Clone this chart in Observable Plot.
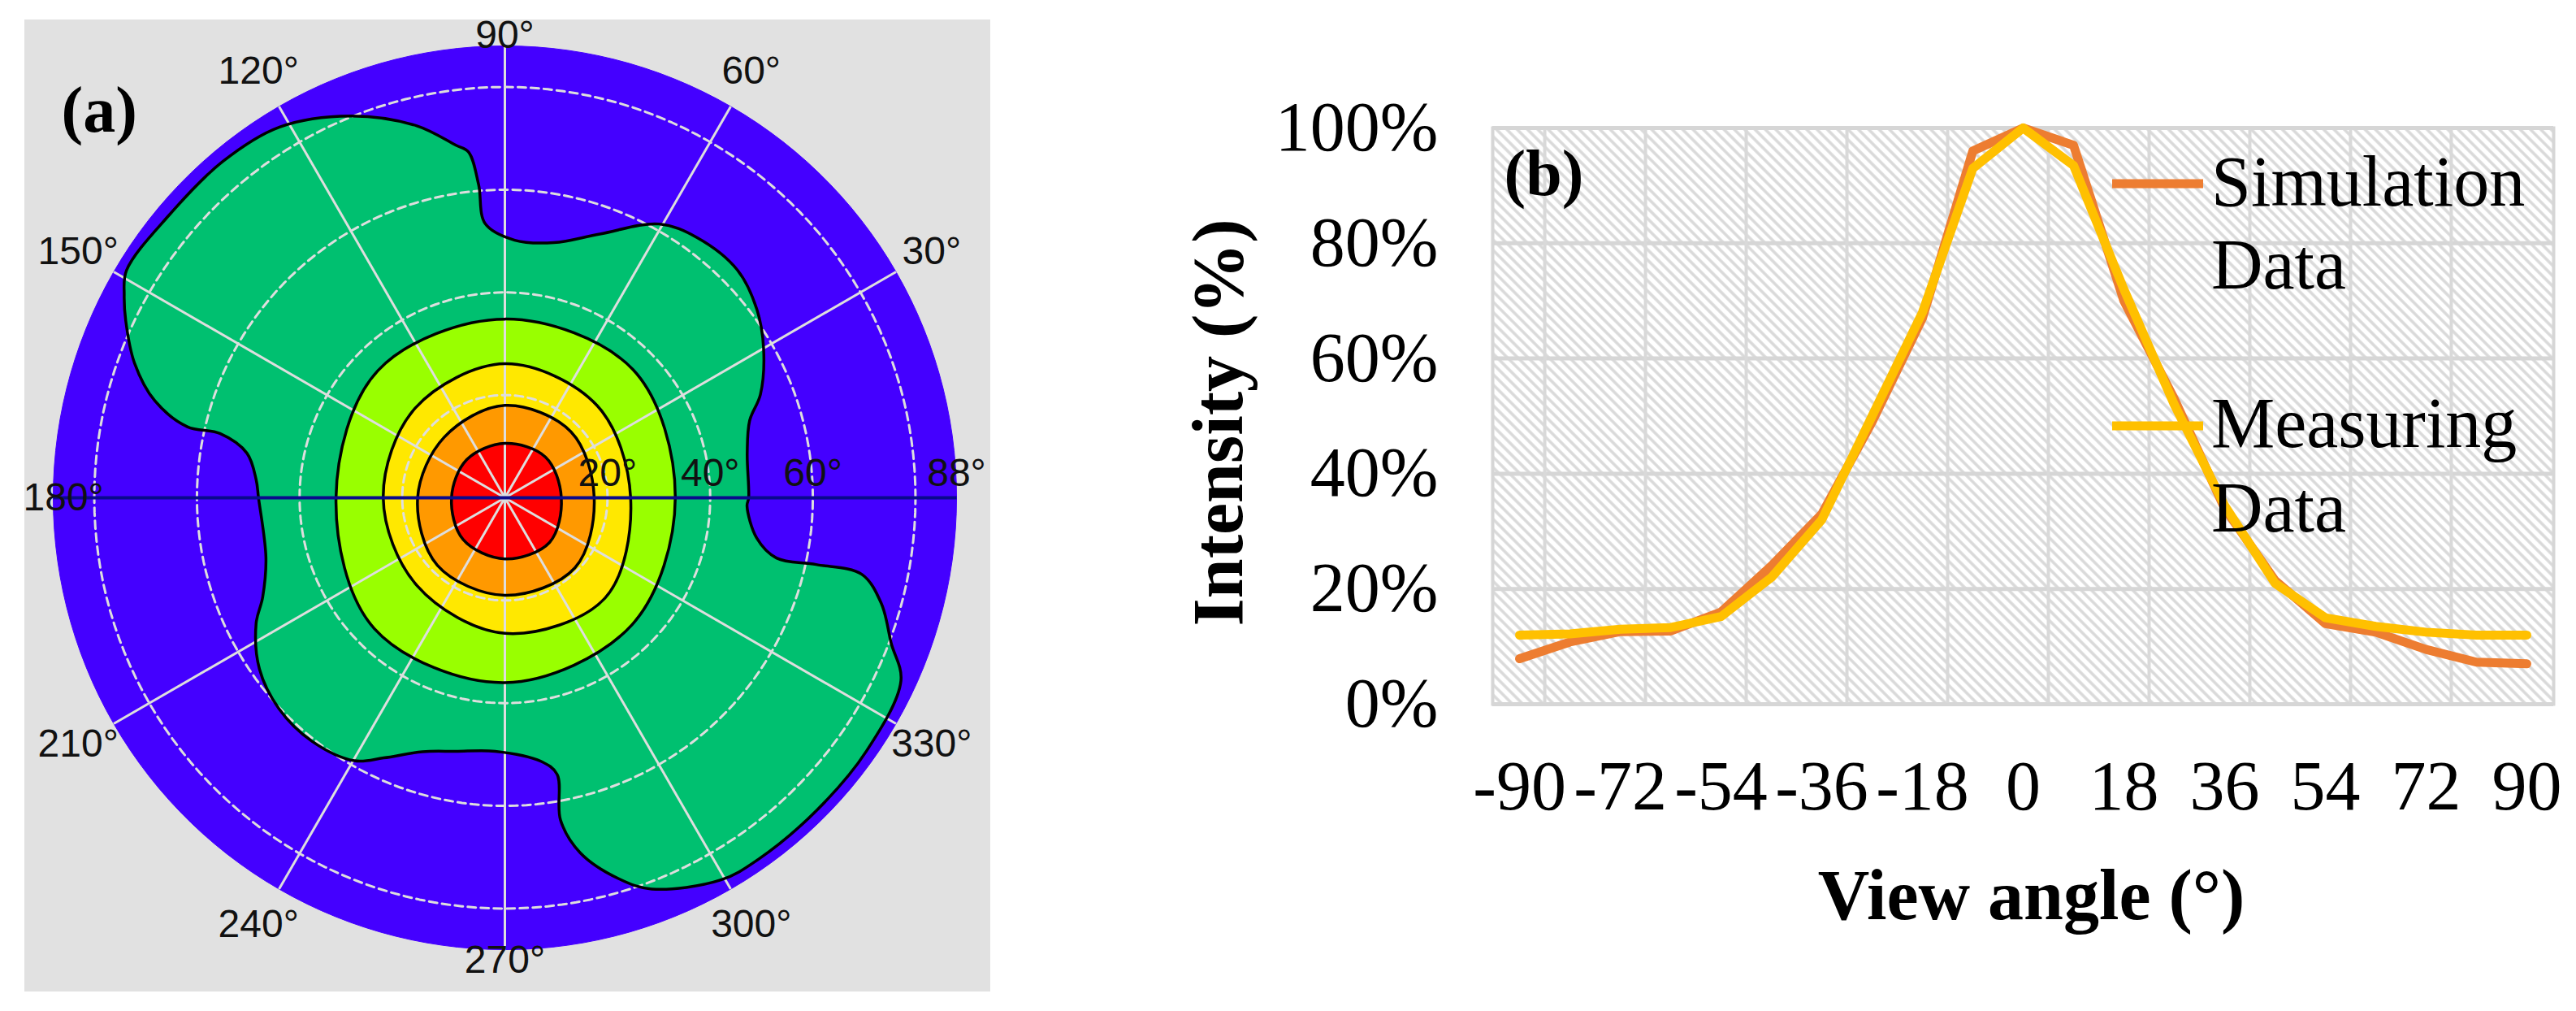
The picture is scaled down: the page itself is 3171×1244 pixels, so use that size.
<!DOCTYPE html>
<html>
<head>
<meta charset="utf-8">
<script src="https://cdn.jsdelivr.net/npm/d3@7"></script>
<script src="https://cdn.jsdelivr.net/npm/@observablehq/plot@0.6"></script>
<style>
html, body { margin: 0; padding: 0; background: #ffffff; }
#root { position: relative; width: 3171px; height: 1244px; overflow: hidden; background: #ffffff; }
#pa { position: absolute; left: 30px; top: 24px; width: 1189px; height: 1196px; }
#pb { position: absolute; left: 1400px; top: 0px; width: 1771px; height: 1244px; }
</style>
</head>
<body>
<div id="root">
  <svg width="0" height="0" style="position:absolute">
    <defs>
      <pattern id="hatch" patternUnits="userSpaceOnUse" width="9" height="9" patternTransform="rotate(-45)">
        <rect width="9" height="9" fill="#ffffff"></rect>
        <line x1="2" y1="0" x2="2" y2="9" stroke="#d9d9d9" stroke-width="3.5"></line>
      </pattern>
    </defs>
  </svg>
  <div id="pa"></div>
  <div id="pb"></div>
</div>
<script>
// ---------------- Panel (a): polar iso-intensity map ----------------
const maxViewAngle = 88;
const contourAngles = [0, 45, 90, 135, 180, 225, 270, 315];
const redRadius    = [11.0, 11.2, 10.6, 10.5, 10.4, 11.5, 11.9, 12.3];
const orangeRadius = [17.4, 18.2, 18.0, 16.7, 17.0, 18.6, 19.0, 19.3];
const yellowRadius = [24.5, 25.4, 26.1, 24.7, 23.7, 24.2, 26.4, 27.6];
const limeRadius   = [33.2, 35.3, 34.8, 35.0, 32.9, 36.0, 36.0, 35.0];
const greenAngles = [0, 10.4, 17.5, 22, 30, 36.8, 44.4, 53.5, 60.6, 70.2, 79.1, 87.8, 94.1, 94.8, 96, 97.9,
  103.4, 112, 121.3, 130, 140, 149, 152, 155, 160, 164.5, 167.4, 167.3, 170.2, 175.8, 180, 194.1, 202.3,
  206.8, 214.9, 223, 231.6, 240.2, 245, 252, 259, 267.8, 277.8, 280.7, 279.8, 282, 286.7, 290.6, 299.5,
  305, 315, 325, 335.2, 339.4, 344.3, 347.9, 347.9, 347.5, 350.9, 358.1];
const greenRadius = [47.5, 48, 50, 53.7, 58.2, 61.3, 63.4, 63, 61.2, 54.6, 50.6, 50.2, 53.5, 61.2, 67.7, 69.3,
  74.5, 80.2, 84.5, 85.5, 85.5, 86, 84, 81.5, 76.8, 70.8, 63.4, 56.9, 51, 48.6, 48, 48, 51,
  54.3, 58.3, 60.2, 60.5, 59, 55.9, 52, 50.3, 49.4, 51.8, 54.8, 63.7, 70.7, 77.5, 81.4, 85.5,
  86, 86, 86, 85, 80.4, 76.2, 71.1, 62, 54.2, 49.7, 47.2];
const ringRadii = [20, 40, 60, 80];
const spokeAngles = [30, 60, 90, 120, 150, 210, 240, 270, 300, 330];
const angleLabels = [30, 60, 90, 120, 150, 180, 210, 240, 270, 300, 330];
const radialLabels = [20, 40, 60, 88];

// ---------------- Panel (b): intensity vs view angle ----------------
const viewAngles = [-90, -81, -72, -63, -54, -45, -36, -27, -18, -9, 0, 9, 18, 27, 36, 45, 54, 63, 72, 81, 90];
const simulation = [7.9, 10.8, 12.6, 12.7, 16, 24, 33, 49, 67, 96, 100, 97, 70, 53, 34, 21.5, 14, 12.5, 9.5, 7.3, 7];
const measuring  = [12, 12.2, 13, 13.3, 15.2, 22, 32, 50, 68, 93, 100, 93.5, 72, 52, 34.5, 21, 15, 13.5, 12.5, 12, 12];
const xTicks = [-90, -72, -54, -36, -18, 0, 18, 36, 54, 72, 90];
const yTicks = [0, 20, 40, 60, 80, 100];
const xGrid = [-85.5, -67.5, -49.5, -31.5, -13.5, 4.5, 22.5, 40.5, 58.5, 76.5];
const seriesNames = [["Simulation", "Data"], ["Measuring", "Data"]];
const seriesColors = ["#ED7D31", "#FFC000"];

// ---------- helpers ----------
const rad = a => a * Math.PI / 180;
const toXY = (a, r) => ({x: r * Math.cos(rad(a)), y: r * Math.sin(rad(a))});
const contourRows = (angles, radii) => angles.map((a, i) => toXY(a, radii[i]));
const circleSteps = d3.range(0, 360, 2);
const diskRows = circleSteps.map(a => toXY(a, maxViewAngle));
const ringRows = ringRadii.flatMap(r => circleSteps.map(a => ({r, ...toXY(a, r)})));
const clamp = (v, lo, hi) => Math.max(lo, Math.min(hi, v));

const levels = [
  {rows: contourRows(greenAngles, greenRadius), color: "#00c070"},
  {rows: contourRows(contourAngles, limeRadius), color: "#99ff00"},
  {rows: contourRows(contourAngles, yellowRadius), color: "#ffe800"},
  {rows: contourRows(contourAngles, orangeRadius), color: "#ff9900"},
  {rows: contourRows(contourAngles, redRadius), color: "#ff0000"}
];
const blue = "#4400ff";
const gridColor = "#dedede";
const labelR = 96;

const plotA = Plot.plot({
  width: 1189, height: 1196, margin: 0,
  x: {domain: [-maxViewAngle, maxViewAngle], range: [35, 1147], axis: null},
  y: {domain: [-maxViewAngle, maxViewAngle], range: [1144, 32], axis: null},
  style: {background: "#e1e1e1", fontFamily: "Liberation Sans, Arial, sans-serif", overflow: "visible", maxWidth: "none"},
  marks: [
    Plot.line(diskRows, {x: "x", y: "y", curve: "linear-closed", fill: blue, stroke: blue, strokeWidth: 1}),
    ...levels.map(L => Plot.line(L.rows, {x: "x", y: "y", curve: "catmull-rom-closed", fill: L.color, stroke: "none"})),
    Plot.line(ringRows, {x: "x", y: "y", z: "r", curve: "linear-closed", stroke: gridColor, strokeWidth: 3, strokeDasharray: "10 6"}),
    Plot.link(spokeAngles, {x1: () => 0, y1: () => 0, x2: a => maxViewAngle * Math.cos(rad(a)), y2: a => maxViewAngle * Math.sin(rad(a)),
      stroke: gridColor, strokeWidth: 3, strokeDasharray: a => (a === 90 || a === 270) ? null : "10 6"}),
    ...levels.map(L => Plot.line(L.rows, {x: "x", y: "y", curve: "catmull-rom-closed", stroke: "#000", strokeWidth: 3.5})),
    Plot.link([0], {x1: () => -maxViewAngle, y1: () => 0, x2: () => maxViewAngle, y2: () => 0, stroke: "#0a0a8c", strokeWidth: 4}),
    Plot.text(radialLabels, {x: r => r, y: () => 0, dy: -30, text: r => `${r}°`, fontSize: 48, fill: "#111"}),
    Plot.text(angleLabels, {
      x: a => clamp(labelR * Math.cos(rad(a)), -86, 86),
      y: a => clamp(labelR * Math.sin(rad(a)), -90, 90),
      text: a => `${a}°`, fontSize: 48, fill: "#111"
    }),
    Plot.text(["(a)"], {frameAnchor: "top-left", dx: 45, dy: 112, textAnchor: "start", lineAnchor: "middle", fontSize: 80, fontWeight: "bold",
      fontFamily: "Liberation Serif, Times New Roman, serif", fill: "#000"})
  ]
});
document.getElementById("pa").appendChild(plotA);

// ---------- Panel (b) ----------
const simRows = viewAngles.map((a, i) => ({angle: a, value: simulation[i]}));
const measRows = viewAngles.map((a, i) => ({angle: a, value: measuring[i]}));

const plotB = Plot.plot({
  width: 1771, height: 1244,
  marginLeft: 437, marginRight: 28, marginTop: 157, marginBottom: 378,
  x: {domain: [-94.8, 94.8], ticks: xTicks, tickSize: 0, tickPadding: 68, tickFormat: d => String(d), label: null},
  y: {domain: [0, 100], ticks: yTicks, tickSize: 0, tickPadding: 67, tickFormat: d => `${d}%`, label: null},
  style: {background: "transparent", fontFamily: "Liberation Serif, Times New Roman, serif", fontSize: "86px", color: "#000", overflow: "visible", maxWidth: "none"},
  marks: [
    Plot.frame({fill: "url(#hatch)", stroke: "none"}),
    Plot.ruleY(yTicks, {stroke: "#d6d6d6", strokeWidth: 5}),
    Plot.ruleX(xGrid, {stroke: "#d9d9d9", strokeWidth: 4}),
    Plot.frame({stroke: "#d6d6d6", strokeWidth: 4}),
    Plot.line(simRows, {x: "angle", y: "value", stroke: seriesColors[0], strokeWidth: 11, strokeLinejoin: "round", strokeLinecap: "round"}),
    Plot.line(measRows, {x: "angle", y: "value", stroke: seriesColors[1], strokeWidth: 11, strokeLinejoin: "round", strokeLinecap: "round"}),
    Plot.text(["(b)"], {frameAnchor: "top-left", dx: 14, dy: 57, textAnchor: "start", lineAnchor: "middle", fontSize: 80, fontWeight: "bold", fill: "#000"}),
    Plot.text(["Intensity (%)"], {frameAnchor: "left", rotate: -90, dx: -337, dy: 8, textAnchor: "middle", lineAnchor: "middle", fontSize: 88, fontWeight: "bold", fill: "#000"}),
    Plot.text(["View angle (°)"], {frameAnchor: "bottom", dx: 10, dy: 236, textAnchor: "middle", lineAnchor: "middle", fontSize: 88, fontWeight: "bold", fill: "#000"})
  ]
});
document.getElementById("pb").appendChild(plotB);

// legend (inside plot area, right side)
const svgB = d3.select(plotB);
const legend = svgB.append("g")
  .attr("font-family", "Liberation Serif, Times New Roman, serif")
  .attr("font-size", 88)
  .attr("text-anchor", "start");
const legendLineY = [226, 524];
const legendBaselines = [[253, 355], [550, 654]];
seriesNames.forEach((lines, i) => {
  legend.append("line").attr("x1", 1200).attr("x2", 1312).attr("y1", legendLineY[i]).attr("y2", legendLineY[i])
    .attr("stroke", seriesColors[i]).attr("stroke-width", 11);
  lines.forEach((t, j) => {
    legend.append("text").attr("x", 1322).attr("y", legendBaselines[i][j]).attr("fill", "#000").attr("text-anchor", "start").text(t);
  });
});
</script>
</body>
</html>
